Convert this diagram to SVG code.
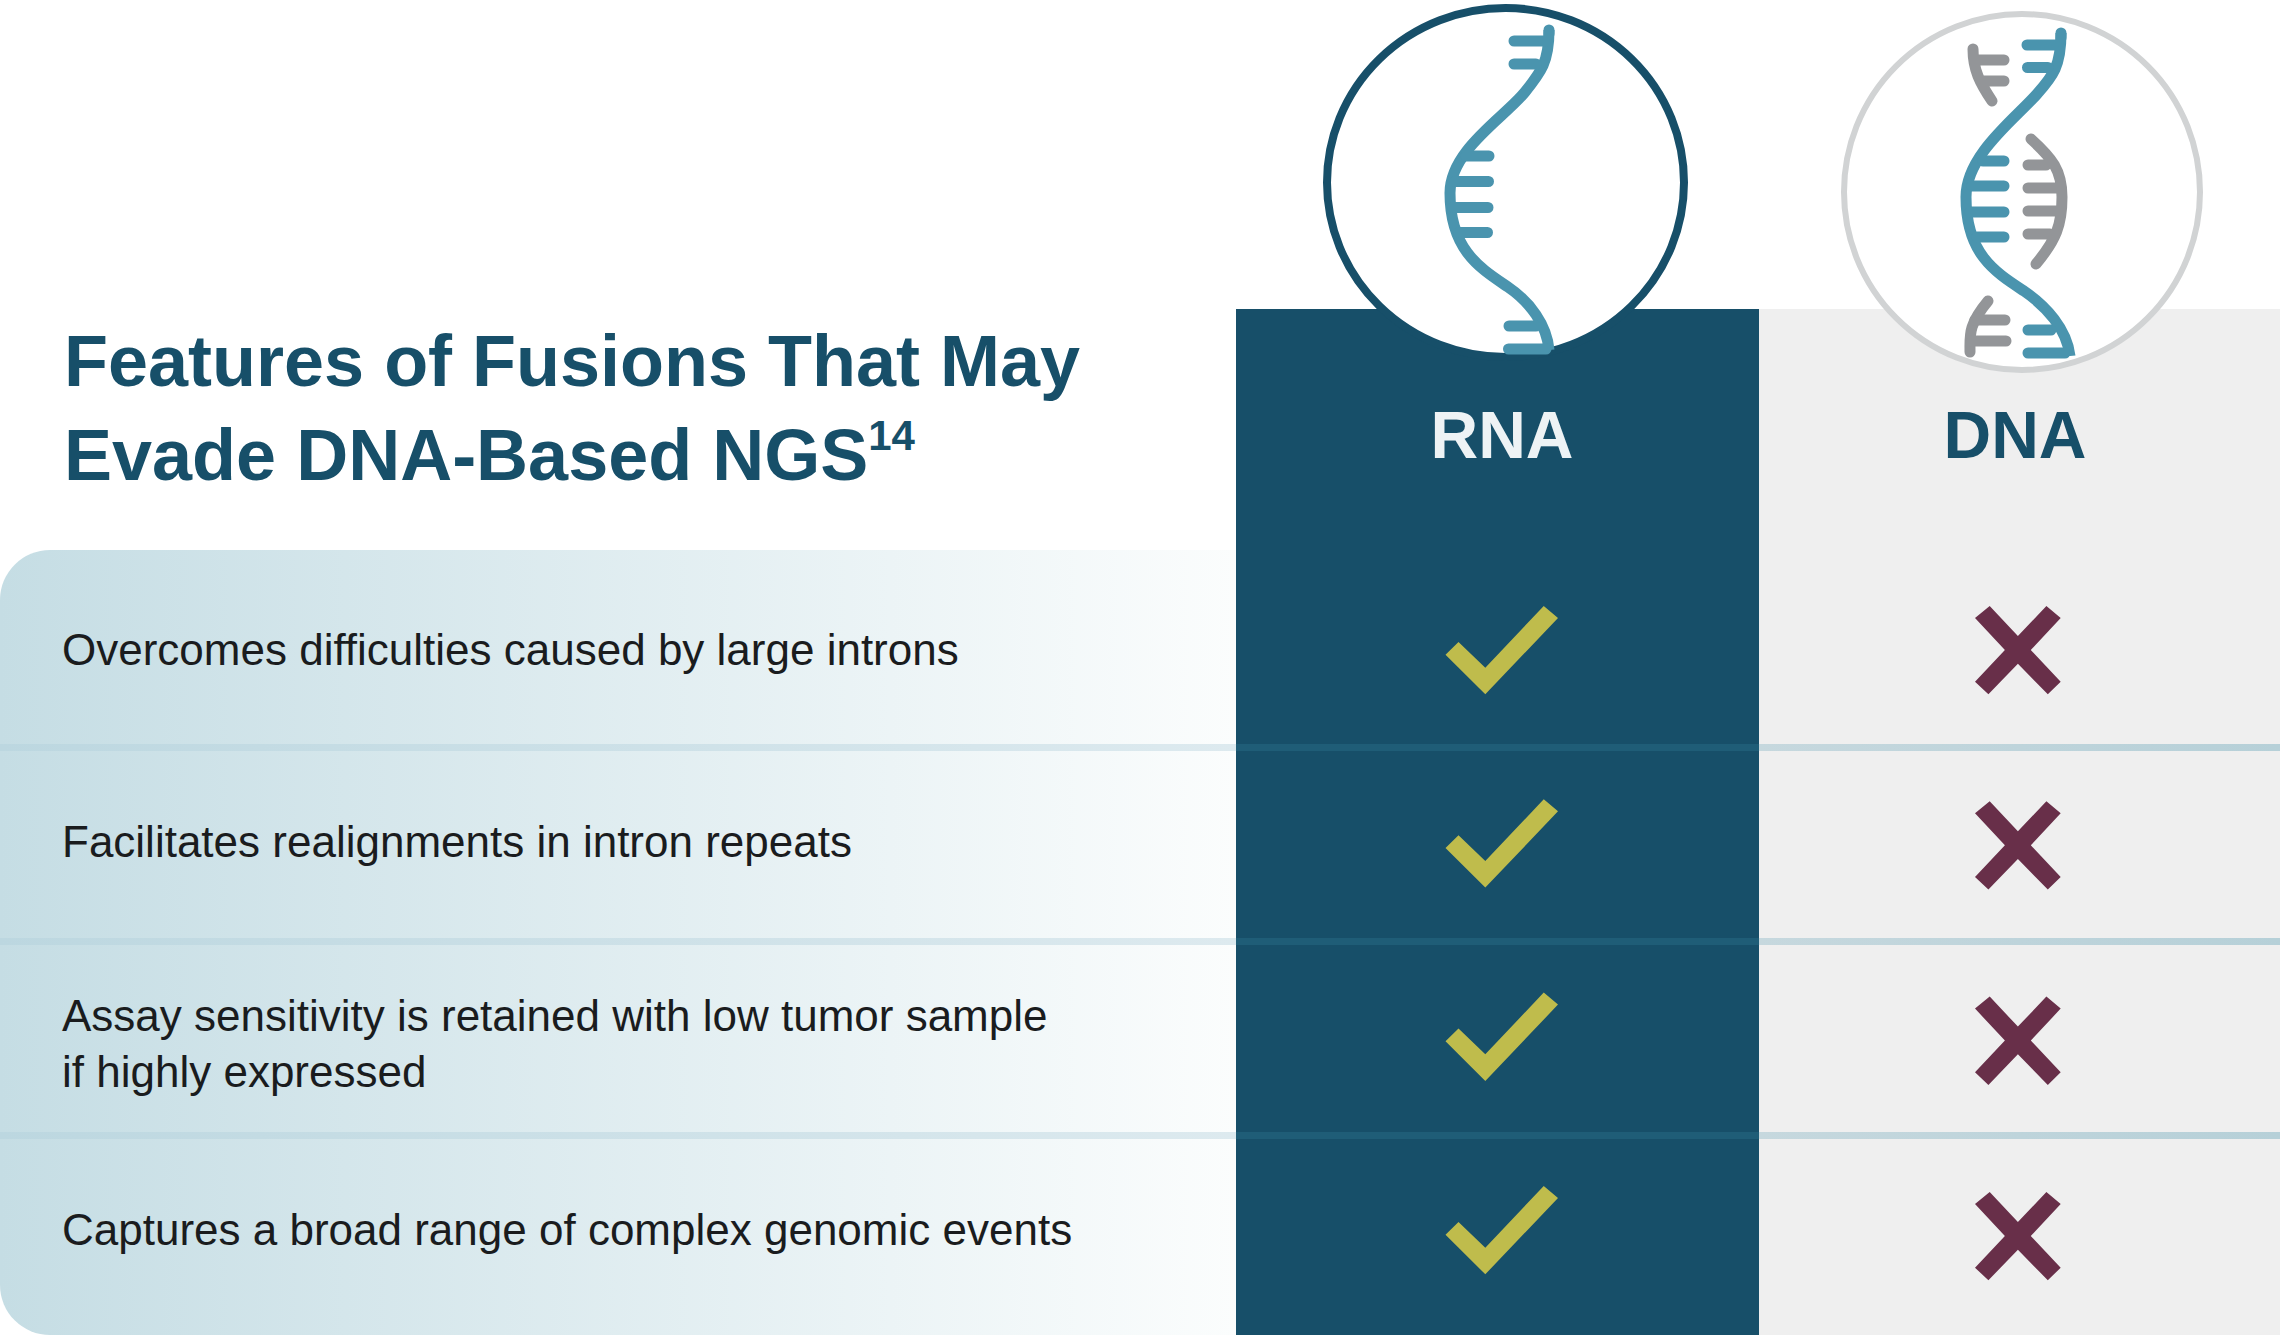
<svg xmlns="http://www.w3.org/2000/svg" xmlns:xlink="http://www.w3.org/1999/xlink" width="2280" height="1335" viewBox="0 0 2280 1335">
<style>
.t{font-family:"Liberation Sans",Arial,sans-serif}
.title{font-size:72px;font-weight:700;fill:#174f69}
.row{font-size:44px;fill:#1a1c1e}
.head{font-size:66px;font-weight:700}
.s{fill:none;stroke-width:11;stroke-linecap:round}
.teal{stroke:#4a94ae}
.grey{stroke:#939598}
.butt{stroke-linecap:butt}
.check{fill:#bfbc4c}
.cross{fill:#682f49}
</style>
<defs>
<linearGradient id="bg" gradientUnits="userSpaceOnUse" x1="0" y1="0" x2="1236" y2="0"><stop offset="0" stop-color="#c5dde4"/><stop offset="1" stop-color="#fbfdfd"/></linearGradient>
<linearGradient id="sepL" gradientUnits="userSpaceOnUse" x1="0" y1="0" x2="1236" y2="0"><stop offset="0" stop-color="#bcd7e0"/><stop offset="1" stop-color="#ddeaef"/></linearGradient>
<linearGradient id="sepR" gradientUnits="userSpaceOnUse" x1="1759" y1="0" x2="2280" y2="0"><stop offset="0" stop-color="#c6d8de"/><stop offset="1" stop-color="#b6d0d8"/></linearGradient>
<polygon id="ck" class="check" points="1543.75,606 1558,618 1485.3,694.3 1445.5,654.7 1458.5,642 1485.3,667.7"/>
<polygon id="xx" class="cross" points="1989.7,606 2017.9,636 2046.4,606 2060.7,618 2030.8,650 2060.7,681.7 2047.8,694.3 2017.9,663.7 1988.4,694.3 1975,681.7 2004.9,650 1975,618"/>
<g id="sep"><rect x="0" y="0" width="1236" height="7" fill="url(#sepL)"/><rect x="1236" y="0" width="523" height="7" fill="#1f5d77"/><rect x="1759" y="0" width="521" height="7" fill="url(#sepR)"/></g>
</defs>
<rect width="2280" height="1335" fill="#fff"/>
<g id="panels">
<path d="M50,550H1236V1335H50A50,50 0 0 1 0,1285V600A50,50 0 0 1 50,550Z" fill="url(#bg)"/>
<rect x="1236" y="309" width="523" height="1026" fill="#174f69"/>
<rect x="1759" y="309" width="521" height="1026" fill="#efefef"/>
</g>
<g id="separators">
<use xlink:href="#sep" href="#sep" y="744"/>
<use xlink:href="#sep" href="#sep" y="938"/>
<use xlink:href="#sep" href="#sep" y="1132"/>
</g>
<g id="title" class="t title">
<text x="64" y="386">Features of Fusions That May</text>
<text x="64" y="480">Evade DNA-Based NGS<tspan font-size="42" font-weight="700" dy="-30">14</tspan></text>
</g>
<g id="rna-icon">
<ellipse cx="1505.5" cy="182.5" rx="178.5" ry="174.5" fill="#fff" stroke="#174f69" stroke-width="8"/>
<path class="s teal butt" d="M1549,30C1549,62 1541,72 1525,92C1505,117 1450,150 1450,193C1450,250 1480,268 1508,287C1530,302 1547,325 1549,350"/>
<path class="s teal" d="M1549,30V34M1545,41H1514M1536,64H1514M1466,156H1489M1455,181.500H1488.500M1453,207.500H1488M1459,232.500H1487.500M1536,326H1509M1546,349H1508.500"/>
</g>
<g id="rna-head"><text class="t head" x="1502" y="458" text-anchor="middle" fill="#eef3f5">RNA</text></g>
<g id="dna-icon">
<ellipse cx="2022" cy="192" rx="178" ry="178" fill="#fff" stroke="#d1d3d4" stroke-width="6"/>
<path class="s teal butt" d="M2061,33C2061,66 2053,76 2037,94C2015,119 1966,155 1966,197C1966,254 1995,272 2024,291C2046,306 2067,329 2070,356"/>
<path class="s teal" d="M2061,33V38M2057,45H2027M2048,67.500H2027.500M1983,161H2004M1972,186H2004M1970,212H2004M1977,237H2004M2051,330H2028M2065,353H2028"/>
<path class="s grey" d="M1973,49C1973,70 1980,83 1992,101M1975,60H2004M1982,81H2004M2031,139C2052,158 2062,170 2062,197C2062,225 2056,240 2036,264M2028,165H2046M2028,188H2058M2028,211H2058M2028,234H2050M1988,301C1968,325 1970,335 1970,352"/>
<path class="s grey" d="M1975,320H2005M1972,341H2006"/>
</g>
<g id="dna-head"><text class="t head" x="2015" y="458" text-anchor="middle" fill="#174f69">DNA</text></g>
<g id="row1"><text class="t row" x="62" y="665">Overcomes difficulties caused by large introns</text><use xlink:href="#ck" href="#ck"/><use xlink:href="#xx" href="#xx"/></g>
<g id="row2"><text class="t row" x="62" y="857">Facilitates realignments in intron repeats</text><use xlink:href="#ck" href="#ck" y="193.300"/><use xlink:href="#xx" href="#xx" y="195.300"/></g>
<g id="row3"><text class="t row" x="62" y="1031">Assay sensitivity is retained with low tumor sample</text><text class="t row" x="62" y="1087">if highly expressed</text><use xlink:href="#ck" href="#ck" y="386.600"/><use xlink:href="#xx" href="#xx" y="390.600"/></g>
<g id="row4"><text class="t row" x="62" y="1245">Captures a broad range of complex genomic events</text><use xlink:href="#ck" href="#ck" y="580"/><use xlink:href="#xx" href="#xx" y="586"/></g>
</svg>
